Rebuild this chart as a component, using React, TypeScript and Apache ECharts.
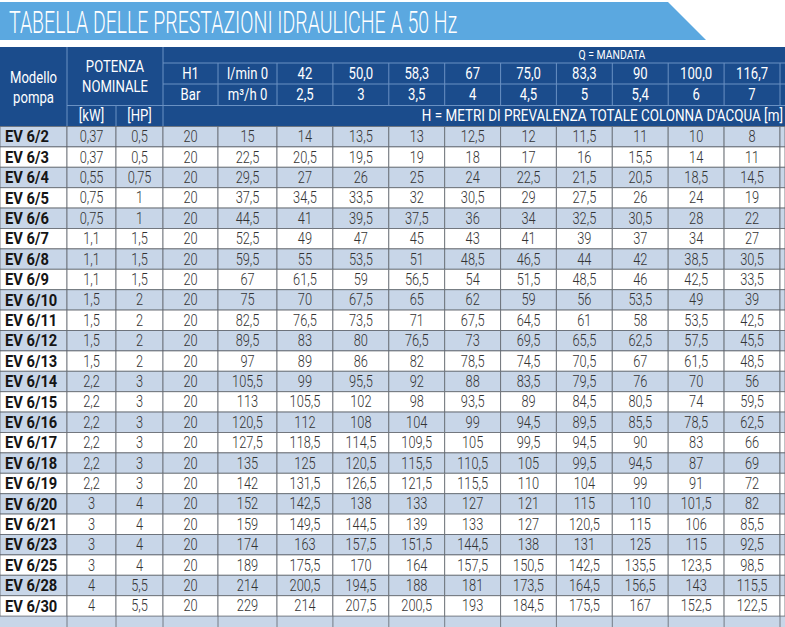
import React, { useEffect, useRef } from "react";
import * as echarts from "echarts";

// ---------- data ----------
const title = "TABELLA DELLE PRESTAZIONI IDRAULICHE A 50 Hz";
const qCaption = "Q = MANDATA";
const hCaption = "H = METRI DI PREVALENZA TOTALE COLONNA D'ACQUA [m]";

const models = [
  "EV 6/2", "EV 6/3", "EV 6/4", "EV 6/5", "EV 6/6", "EV 6/7", "EV 6/8", "EV 6/9",
  "EV 6/10", "EV 6/11", "EV 6/12", "EV 6/13", "EV 6/14", "EV 6/15", "EV 6/16", "EV 6/17",
  "EV 6/18", "EV 6/19", "EV 6/20", "EV 6/21", "EV 6/23", "EV 6/25", "EV 6/28", "EV 6/30",
];
const powerKW = [0.37, 0.37, 0.55, 0.75, 0.75, 1.1, 1.1, 1.1, 1.5, 1.5, 1.5, 1.5, 2.2, 2.2, 2.2, 2.2, 2.2, 2.2, 3, 3, 3, 3, 4, 4];
const powerHP = [0.5, 0.5, 0.75, 1, 1, 1.5, 1.5, 1.5, 2, 2, 2, 2, 3, 3, 3, 3, 3, 3, 4, 4, 4, 4, 5.5, 5.5];
const pressureBar = [20, 20, 20, 20, 20, 20, 20, 20, 20, 20, 20, 20, 20, 20, 20, 20, 20, 20, 20, 20, 20, 20, 20, 20];
const flowLmin = ["0", "42", "50,0", "58,3", "67", "75,0", "83,3", "90", "100,0", "116,7"];
const flowM3h = ["0", "2,5", "3", "3,5", "4", "4,5", "5", "5,4", "6", "7"];
const heads = [
  [15, 14, 13.5, 13, 12.5, 12, 11.5, 11, 10, 8],
  [22.5, 20.5, 19.5, 19, 18, 17, 16, 15.5, 14, 11],
  [29.5, 27, 26, 25, 24, 22.5, 21.5, 20.5, 18.5, 14.5],
  [37.5, 34.5, 33.5, 32, 30.5, 29, 27.5, 26, 24, 19],
  [44.5, 41, 39.5, 37.5, 36, 34, 32.5, 30.5, 28, 22],
  [52.5, 49, 47, 45, 43, 41, 39, 37, 34, 27],
  [59.5, 55, 53.5, 51, 48.5, 46.5, 44, 42, 38.5, 30.5],
  [67, 61.5, 59, 56.5, 54, 51.5, 48.5, 46, 42.5, 33.5],
  [75, 70, 67.5, 65, 62, 59, 56, 53.5, 49, 39],
  [82.5, 76.5, 73.5, 71, 67.5, 64.5, 61, 58, 53.5, 42.5],
  [89.5, 83, 80, 76.5, 73, 69.5, 65.5, 62.5, 57.5, 45.5],
  [97, 89, 86, 82, 78.5, 74.5, 70.5, 67, 61.5, 48.5],
  [105.5, 99, 95.5, 92, 88, 83.5, 79.5, 76, 70, 56],
  [113, 105.5, 102, 98, 93.5, 89, 84.5, 80.5, 74, 59.5],
  [120.5, 112, 108, 104, 99, 94.5, 89.5, 85.5, 78.5, 62.5],
  [127.5, 118.5, 114.5, 109.5, 105, 99.5, 94.5, 90, 83, 66],
  [135, 125, 120.5, 115.5, 110.5, 105, 99.5, 94.5, 87, 69],
  [142, 131.5, 126.5, 121.5, 115.5, 110, 104, 99, 91, 72],
  [152, 142.5, 138, 133, 127, 121, 115, 110, 101.5, 82],
  [159, 149.5, 144.5, 139, 133, 127, 120.5, 115, 106, 85.5],
  [174, 163, 157.5, 151.5, 144.5, 138, 131, 125, 115, 92.5],
  [189, 175.5, 170, 164, 157.5, 150.5, 142.5, 135.5, 123.5, 98.5],
  [214, 200.5, 194.5, 188, 181, 173.5, 164.5, 156.5, 143, 115.5],
  [229, 214, 207.5, 200.5, 193, 184.5, 175.5, 167, 152.5, 122.5],
];

// ---------- layout / style ----------
const W = 785;
const H = 627;
const colEdges = [0, 67, 116, 163, 218, 277, 332.9, 388.8, 444.7, 500.6, 556.4, 612.3, 668.2, 724.1, 780, 785];
const headerTop = 47;
const rowQ = 63;
const rowA = 84;
const rowB = 105.5;
const dataTop = 126.5;
const rowH = 20.4;
const NAVY = "#1b4c8c";
const HEAD_LINE = "#6a91c3";
const BANNER = "#5ba8e0";
const SHADE = "#c8d6e8";
const GRID_LINE = "#5f646c";
const TEXT = "#333333";
const FONT = "Roboto, 'Open Sans', sans-serif";

const fmt = (v: number) => String(v).replace(".", ",");

type Cell = { value: [number, number]; text: string; bold: boolean };

function buildCells(): Cell[] {
  const cells: Cell[] = [];
  models.forEach((m, r) => {
    const row: string[] = [m, fmt(powerKW[r]), fmt(powerHP[r]), fmt(pressureBar[r])];
    heads[r].forEach((h) => row.push(fmt(h)));
    row.push("");
    row.forEach((t, c) => cells.push({ value: [c, r], text: t, bold: c === 0 }));
  });
  return cells;
}

function txt(x: number, y: number, text: string, opts: any = {}) {
  return {
    type: "text",
    x,
    y,
    scaleX: opts.scaleX ?? 0.82,
    silent: true,
    style: {
      text,
      x: 0,
      y: 0,
      fill: opts.fill ?? "#ffffff",
      fontSize: opts.fontSize ?? 16,
      fontFamily: FONT,
      fontWeight: opts.fontWeight ?? "normal",
      align: opts.align ?? "center",
      verticalAlign: "middle",
    },
  };
}

function line(x1: number, y1: number, x2: number, y2: number, color: string, w = 1) {
  return {
    type: "line",
    silent: true,
    shape: { x1, y1, x2, y2 },
    style: { stroke: color, lineWidth: w },
  };
}

function buildGraphic() {
  const g: any[] = [];
  // banner
  g.push({
    type: "polygon",
    silent: true,
    shape: { points: [[0, 2], [668, 2], [706, 40], [0, 40]] },
    style: { fill: BANNER },
  });
  g.push(txt(9, 22, title, { fontSize: 31, scaleX: 0.63, align: "left", fontWeight: 300 }));

  // header background
  g.push({ type: "rect", silent: true, shape: { x: 0, y: headerTop, width: W, height: dataTop - headerTop }, style: { fill: NAVY } });
  // header lines
  g.push(line(colEdges[1], headerTop, colEdges[1], dataTop, HEAD_LINE));
  g.push(line(colEdges[3], headerTop, colEdges[3], dataTop, HEAD_LINE));
  g.push(line(colEdges[1], rowB, colEdges[3], rowB, HEAD_LINE));
  g.push(line(colEdges[2], rowB, colEdges[2], dataTop, HEAD_LINE));
  [rowQ, rowA, rowB].forEach((y) => g.push(line(colEdges[3], y, W, y, HEAD_LINE)));
  for (let i = 4; i < colEdges.length - 1; i++) g.push(line(colEdges[i], rowQ, colEdges[i], rowB, HEAD_LINE));

  const cx = (i: number) => (colEdges[i] + colEdges[i + 1]) / 2;
  // header texts
  g.push(txt(cx(0), 78, "Modello"));
  g.push(txt(cx(0), 98, "pompa"));
  g.push(txt((colEdges[1] + colEdges[3]) / 2, 67, "POTENZA"));
  g.push(txt((colEdges[1] + colEdges[3]) / 2, 87, "NOMINALE"));
  g.push(txt(cx(1), (rowB + dataTop) / 2, "[kW]"));
  g.push(txt(cx(2), (rowB + dataTop) / 2, "[HP]"));
  g.push(txt(612, (headerTop + rowQ) / 2, qCaption, { fontSize: 13, scaleX: 0.8 }));
  g.push(txt(cx(3), (rowQ + rowA) / 2, "H1"));
  g.push(txt(cx(3), (rowA + rowB) / 2, "Bar"));
  g.push(txt(cx(4), (rowQ + rowA) / 2, "l/min " + flowLmin[0]));
  g.push(txt(cx(4), (rowA + rowB) / 2, "m³/h " + flowM3h[0]));
  for (let k = 1; k < flowLmin.length; k++) {
    g.push(txt(cx(4 + k), (rowQ + rowA) / 2, flowLmin[k]));
    g.push(txt(cx(4 + k), (rowA + rowB) / 2, flowM3h[k]));
  }
  g.push(txt(783, (rowB + dataTop) / 2, hCaption, { align: "right", scaleX: 0.84, fontSize: 16 }));

  // partial next row at the bottom
  const yEnd = dataTop + rowH * models.length;
  g.push({ type: "rect", silent: true, shape: { x: 0, y: yEnd, width: W, height: H - yEnd + 2 }, style: { fill: SHADE } });
  for (let i = 1; i < colEdges.length - 1; i++) g.push(line(colEdges[i], yEnd, colEdges[i], H, GRID_LINE, 0.8));
  return g;
}

export default function App() {
  const ref = useRef<HTMLDivElement>(null);
  useEffect(() => {
    if (!ref.current) return;
    const chart = echarts.init(ref.current, undefined, { renderer: "svg" });
    const cells = buildCells();
    chart.setOption({
      animation: false,
      backgroundColor: "#ffffff",
      grid: { left: 0, right: 0, top: dataTop, height: rowH * models.length },
      xAxis: { type: "value", min: 0, max: W, show: false },
      yAxis: { type: "category", data: models, inverse: true, show: false },
      graphic: buildGraphic(),
      series: [
        {
          type: "custom",
          coordinateSystem: "cartesian2d",
          encode: { x: 0, y: 1 },
          data: cells.map((c) => c.value),
          renderItem: (params: any, api: any) => {
            const cell = cells[params.dataIndex];
            const c = api.value(0);
            const r = api.value(1);
            const x1 = api.coord([colEdges[c], r])[0];
            const x2 = api.coord([colEdges[c + 1], r])[0];
            const cy = api.coord([0, r])[1];
            const h = api.size([0, 1])[1];
            const children: any[] = [
              {
                type: "rect",
                shape: { x: x1, y: cy - h / 2, width: x2 - x1, height: h },
                style: { fill: r % 2 === 0 ? SHADE : "#ffffff", stroke: GRID_LINE, lineWidth: 0.8 },
              },
            ];
            if (cell.text) {
              children.push({
                type: "text",
                x: cell.bold ? x1 + 5 : (x1 + x2) / 2,
                y: cy + 0.5,
                scaleX: cell.bold ? 0.92 : 0.8,
                style: {
                  text: cell.text,
                  fill: cell.bold ? "#151515" : TEXT,
                  fontSize: cell.bold ? 16 : 16,
                  fontWeight: cell.bold ? "bold" : 300,
                  fontFamily: FONT,
                  align: cell.bold ? "left" : "center",
                  verticalAlign: "middle",
                },
              });
            }
            return { type: "group", children };
          },
        },
      ],
    });
    return () => chart.dispose();
  }, []);
  return (
    <div
      ref={ref}
      style={{ position: "fixed", left: 0, top: 0, width: W, height: H, background: "#fff" }}
    />
  );
}
